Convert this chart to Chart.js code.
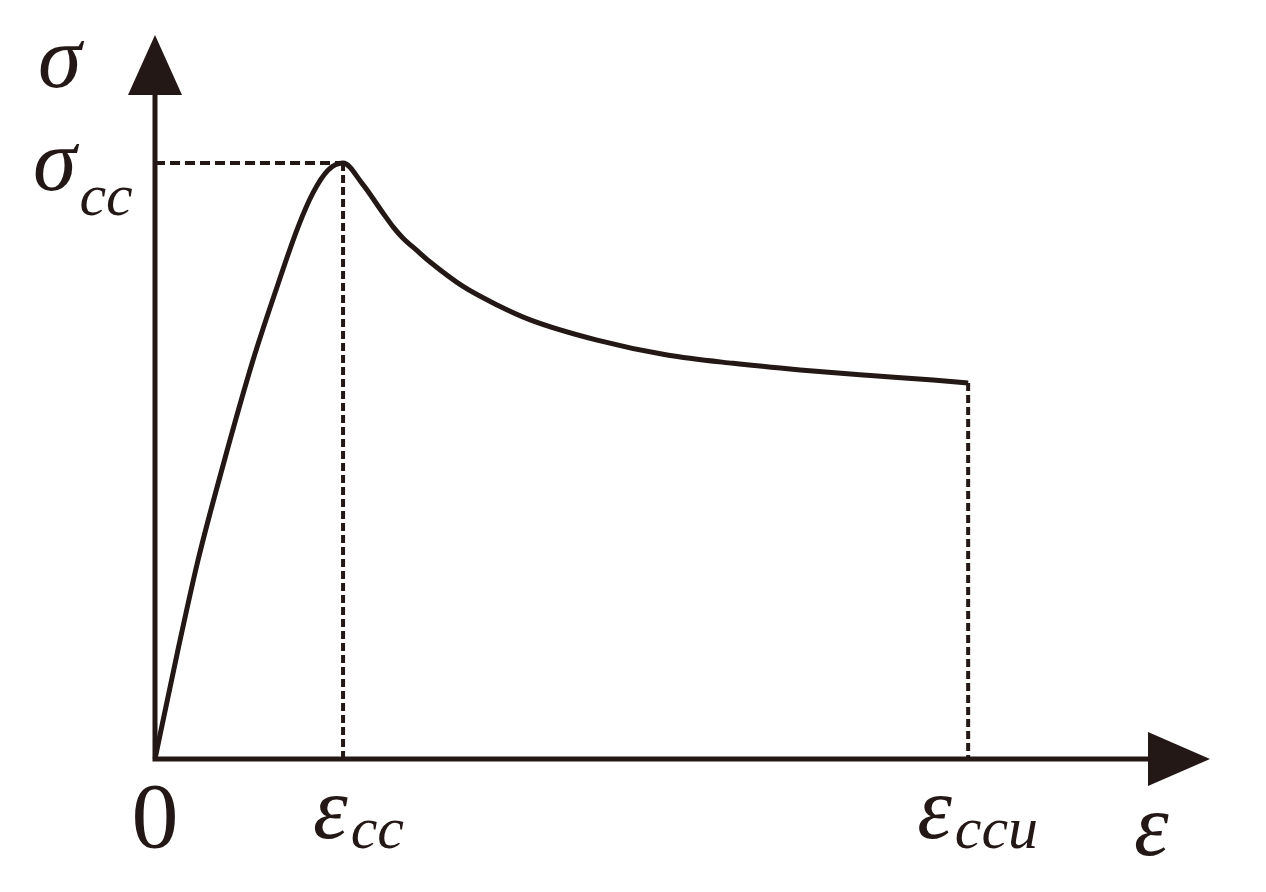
<!DOCTYPE html>
<html>
<head>
<meta charset="utf-8">
<script src="https://cdn.jsdelivr.net/npm/chart.js@4/dist/chart.umd.min.js"></script>
<style>
  html, body { margin: 0; background: #ffffff; }
  #wrap { width: 1266px; height: 892px; position: relative; }
</style>
</head>
<body>
<div id="wrap"><canvas id="stressStrain"></canvas></div>
<script>
// normalised: strain / eps_cc, stress / sigma_cc
const strain = [0, 0.12, 0.229, 0.362, 0.521, 0.638, 0.761, 0.840, 0.920, 1.0,
  1.101, 1.213, 1.266, 1.319, 1.394, 1.463, 1.638, 1.819, 1.995, 2.351, 2.723, 3.074, 3.431, 3.787, 4.138, 4.324];
const stress = [0, 0.18, 0.334, 0.493, 0.669, 0.782, 0.893, 0.950, 0.988, 1.0,
  0.966, 0.916, 0.893, 0.874, 0.853, 0.834, 0.793, 0.762, 0.737, 0.703, 0.678, 0.664, 0.653, 0.644, 0.636, 0.631];

const peakStrain = 1.0, peakStress = 1.0;
const ultStrain = 4.324, ultStress = 0.631;
const xMax = 5.61, yMax = 1.215;

const xTickValues = [0, peakStrain, ultStrain];
const xTickLabels = [["0", ""], ["ε", "cc"], ["ε", "ccu"]];
const yTickValues = [peakStress];
const yTickLabels = [["σ", "cc"]];
const xTitle = "ε", yTitle = "σ";

const ink = "#231815";

/** axes with arrow heads */
const arrowAxes = {
  id: "arrowAxes",
  afterDatasetsDraw(chart) {
    const { ctx, scales: { x, y } } = chart;
    const ox = x.getPixelForValue(0), oy = y.getPixelForValue(0);
    const tipX = x.getPixelForValue(xMax), tipY = y.getPixelForValue(yMax);
    ctx.save();
    ctx.strokeStyle = ink;
    ctx.fillStyle = ink;
    ctx.lineWidth = 5;
    ctx.beginPath();
    ctx.moveTo(ox, tipY + 50);
    ctx.lineTo(ox, oy);
    ctx.lineTo(tipX - 50, oy);
    ctx.stroke();
    // y arrow
    ctx.beginPath();
    ctx.moveTo(ox, tipY);
    ctx.lineTo(ox - 27, tipY + 60);
    ctx.lineTo(ox + 27, tipY + 60);
    ctx.closePath();
    ctx.fill();
    // x arrow
    ctx.beginPath();
    ctx.moveTo(tipX, oy);
    ctx.lineTo(tipX - 62, oy - 27);
    ctx.lineTo(tipX - 62, oy + 27);
    ctx.closePath();
    ctx.fill();
    ctx.restore();
  }
};

function drawSub(ctx, main, sub, left, base, subDy) {
  ctx.font = "italic 88px 'Liberation Serif'";
  ctx.fillText(main, left, base);
  const w = ctx.measureText(main).width;
  if (sub) {
    ctx.font = "italic 60px 'Liberation Serif'";
    ctx.fillText(sub, left + w + 3, base + subDy);
  }
}

/** symbol labels */
const symbolLabels = {
  id: "symbolLabels",
  afterDraw(chart) {
    const { ctx, scales: { x, y } } = chart;
    const oy = y.getPixelForValue(0), ox = x.getPixelForValue(0);
    ctx.save();
    ctx.fillStyle = ink;
    ctx.textAlign = "left";
    ctx.textBaseline = "alphabetic";
    xTickValues.forEach((v, i) => {
      const px = x.getPixelForValue(v);
      const [main, sub] = xTickLabels[i];
      if (v === 0) {
        ctx.font = "94px 'Liberation Serif'";
        ctx.textAlign = "center";
        ctx.fillText(main, px, oy + 88);
        ctx.textAlign = "left";
      } else {
        const off = sub.length > 2 ? 51 : 30;
        drawSub(ctx, main, sub, px - off, oy + 79, 10);
      }
    });
    yTickValues.forEach((v, i) => {
      const py = y.getPixelForValue(v);
      const [main, sub] = yTickLabels[i];
      drawSub(ctx, main, sub, ox - 122, py + 27, 25);
    });
    drawSub(ctx, yTitle, "", ox - 117, y.getPixelForValue(yMax) + 52, 0);
    drawSub(ctx, xTitle, "", x.getPixelForValue(xMax) - 76, oy + 96, 0);
    ctx.restore();
  }
};

const curve = strain.map((e, i) => ({ x: e, y: stress[i] }));

new Chart(document.getElementById("stressStrain"), {
  type: "scatter",
  data: {
    datasets: [
      {
        data: curve, showLine: true, borderColor: ink, borderWidth: 5,
        pointRadius: 0, cubicInterpolationMode: "monotone"
      },
      {
        data: [{ x: 0, y: peakStress }, { x: peakStrain, y: peakStress }],
        showLine: true, borderColor: ink, borderWidth: 4, borderDash: [10, 5], pointRadius: 0
      },
      {
        data: [{ x: peakStrain, y: peakStress }, { x: peakStrain, y: 0 }],
        showLine: true, borderColor: ink, borderWidth: 4, borderDash: [8, 4], pointRadius: 0
      },
      {
        data: [{ x: ultStrain, y: ultStress }, { x: ultStrain, y: 0 }],
        showLine: true, borderColor: ink, borderWidth: 4, borderDash: [8, 4], pointRadius: 0
      }
    ]
  },
  options: {
    responsive: true,
    maintainAspectRatio: false,
    animation: false,
    clip: false,
    layout: { padding: { left: 155, right: 56, top: 35, bottom: 133 } },
    plugins: { legend: { display: false }, tooltip: { enabled: false } },
    scales: {
      x: { type: "linear", min: 0, max: xMax, display: false },
      y: { type: "linear", min: 0, max: yMax, display: false }
    }
  },
  plugins: [arrowAxes, symbolLabels]
});
</script>
</body>
</html>
